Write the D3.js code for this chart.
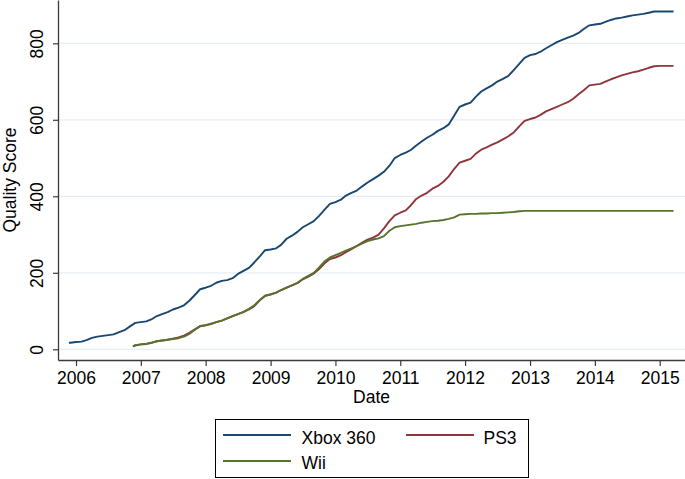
<!DOCTYPE html>
<html>
<head>
<meta charset="utf-8">
<script src="https://cdn.jsdelivr.net/npm/d3@7"></script>
<style>
  html, body { margin: 0; padding: 0; background: #ffffff; }
  svg { display: block; font-family: "Liberation Sans", Arial, Helvetica, sans-serif; }
</style>
</head>
<body>
<svg id="chart" width="685" height="479"></svg>
<script>
// ---------------- DATA ----------------
const seriesNames = ["Xbox 360", "PS3", "Wii"];
const seriesColors = ["#1a476f", "#90353b", "#55752f"];

const xboxLaunch = "2005-11-22";
const ps3Launch = "2006-11-17";
const wiiLaunch = "2006-11-19";
const lastDate = "2015-03-20";

// monthly values (first of each month), from Dec of launch year to Mar 2015
const xboxLaunchValue = 17;
const xboxValues = [
  17,
  19,20,24,30,33,35,37,39,45,50,60,69,
  71,73,78,87,92,97,104,109,115,127,142,157,
  161,166,174,179,181,186,197,205,213,227,243,259,
  261,264,273,289,297,307,319,327,335,349,365,380,
  385,391,402,409,415,426,436,445,454,464,480,500,
  508,514,521,533,543,553,561,571,578,588,611,634,
  640,645,660,674,682,690,700,707,715,730,746,762,
  769,772,778,787,795,803,809,815,820,827,838,847,
  849,851,856,861,865,867,870,873,875,877,880,883,
  883,883,883
];
const xboxLastValue = 883;

const ps3LaunchValue = 8;
const ps3Values = [
  10,
  13,14,17,21,23,25,28,31,36,43,52,61,
  63,67,71,75,81,87,92,97,104,113,128,140,
  143,148,155,161,167,173,183,190,198,210,225,236,
  240,246,254,262,270,279,287,292,300,316,335,350,
  357,363,376,393,402,409,420,427,438,452,472,488,
  493,498,511,522,528,535,541,549,557,567,583,597,
  602,606,613,622,628,634,640,646,655,667,678,690,
  692,694,700,706,711,716,720,724,727,731,736,740,
  741,741,741
];
const ps3LastValue = 741;

const wiiLaunchValue = 8;
const wiiValues = [
  11,
  13,14,17,21,23,25,27,29,33,40,51,60,
  63,66,71,75,81,87,92,98,106,115,129,140,
  144,148,155,161,167,174,184,192,200,214,230,240,
  246,252,258,264,270,277,283,287,290,296,310,319,
  322,324,326,328,331,333,335,336,338,341,345,352,
  353,354,354,355,355,356,356,357,358,359,361,362,
  362,362,362,362,362,362,362,362,362,362,362,362,
  362,362,362,362,362,362,362,362,362,362,362,362,
  362,362,362
];
const wiiLastValue = 362;

const yTicks = [0, 200, 400, 600, 800];
const xTickYears = [2006, 2007, 2008, 2009, 2010, 2011, 2012, 2013, 2014, 2015];
const xTitle = "Date";
const yTitle = "Quality Score";

// ---------------- BUILD ----------------
const parse = d3.timeParse("%Y-%m-%d");
function buildSeries(launch, launchValue, values, lastValue) {
  const l = parse(launch);
  const firstMonth = d3.timeMonth.ceil(l);
  const months = d3.timeMonth.range(firstMonth, d3.timeMonth.offset(firstMonth, values.length));
  const pts = [{date: l, value: launchValue}];
  months.forEach((m, i) => pts.push({date: m, value: values[i]}));
  pts.push({date: parse(lastDate), value: lastValue});
  return pts;
}
const series = [
  buildSeries(xboxLaunch, xboxLaunchValue, xboxValues, xboxLastValue),
  buildSeries(ps3Launch, ps3LaunchValue, ps3Values, ps3LastValue),
  buildSeries(wiiLaunch, wiiLaunchValue, wiiValues, wiiLastValue)
];

const svg = d3.select("#chart");
const plotLeft = 58, plotRight = 685, plotTop = 0, plotBottom = 360;
const fontSize = 17.5;

// x scale anchored on the year ticks
const xTmp = d3.scaleTime().domain([new Date(2006, 0, 1), new Date(2015, 0, 1)]).range([76, 659.7]);
const x = d3.scaleTime().domain([xTmp.invert(plotLeft), xTmp.invert(plotRight)]).range([plotLeft, plotRight]);
const yTmp = d3.scaleLinear().domain([0, 800]).range([349.3, 43.3]);
const y = d3.scaleLinear().domain([yTmp.invert(plotBottom), yTmp.invert(plotTop)]).range([plotBottom, plotTop]);

// grid
svg.append("g").selectAll("line").data(yTicks).join("line")
  .attr("x1", plotLeft).attr("x2", plotRight)
  .attr("y1", d => y(d)).attr("y2", d => y(d))
  .attr("stroke", "#e6eef2").attr("stroke-width", 1.3);

// lines
const line = d3.line().x(d => x(d.date)).y(d => y(d.value));
svg.append("g").selectAll("path").data(series).join("path")
  .attr("d", line)
  .attr("fill", "none")
  .attr("stroke", (d, i) => seriesColors[i])
  .attr("stroke-width", 1.9)
  .attr("stroke-linejoin", "round");

// y axis
const yAxis = svg.append("g").attr("transform", `translate(${plotLeft},0)`)
  .call(d3.axisLeft(y).tickValues(yTicks).tickSize(5).tickSizeOuter(0).tickFormat(d3.format("d")));
yAxis.select(".domain").attr("stroke", "#3a3a3a").attr("stroke-width", 1.3);
yAxis.selectAll(".tick line").attr("stroke", "#3a3a3a").attr("stroke-width", 1.2);
yAxis.selectAll(".tick text")
  .attr("transform", "rotate(-90)")
  .attr("x", 0).attr("y", -15.3).attr("dy", 0)
  .attr("text-anchor", "middle")
  .attr("fill", "#000")
  .style("font-size", fontSize + "px")
  .style("font-family", "\"Liberation Sans\", Arial, sans-serif");

// x axis
const xAxis = svg.append("g").attr("transform", `translate(0,${plotBottom})`)
  .call(d3.axisBottom(x).tickValues(xTickYears.map(yv => new Date(yv, 0, 1)))
    .tickSize(6).tickSizeOuter(0).tickFormat(d3.timeFormat("%Y")));
xAxis.select(".domain").attr("stroke", "#3a3a3a").attr("stroke-width", 1.3);
xAxis.selectAll(".tick line").attr("stroke", "#3a3a3a").attr("stroke-width", 1.2);
xAxis.selectAll(".tick text")
  .attr("y", 24.2).attr("dy", 0)
  .attr("fill", "#000")
  .style("font-size", fontSize + "px")
  .style("font-family", "\"Liberation Sans\", Arial, sans-serif");

// titles
svg.append("text")
  .attr("x", (plotLeft + plotRight) / 2).attr("y", 402.5)
  .attr("text-anchor", "middle")
  .style("font-size", fontSize + "px")
  .text(xTitle);
svg.append("text")
  .attr("transform", `translate(15.5,${(plotTop + plotBottom) / 2}) rotate(-90)`)
  .attr("text-anchor", "middle")
  .style("font-size", fontSize + "px")
  .text(yTitle);

// legend
const legend = svg.append("g");
legend.append("rect")
  .attr("x", 215.5).attr("y", 419.5).attr("width", 313).attr("height", 58)
  .attr("fill", "#fff").attr("stroke", "#000").attr("stroke-width", 1);
const legendPos = [
  {lx: 223, ly: 435, tx: 301.5, ty: 443.5},
  {lx: 406, ly: 435, tx: 483.5, ty: 443.5},
  {lx: 223, ly: 461, tx: 301.5, ty: 468.5}
];
seriesNames.forEach((name, i) => {
  const p = legendPos[i];
  legend.append("line")
    .attr("x1", p.lx).attr("x2", p.lx + 68)
    .attr("y1", p.ly).attr("y2", p.ly)
    .attr("stroke", seriesColors[i]).attr("stroke-width", 1.9);
  legend.append("text")
    .attr("x", p.tx).attr("y", p.ty)
    .style("font-size", fontSize + "px")
    .text(name);
});
</script>
</body>
</html>
